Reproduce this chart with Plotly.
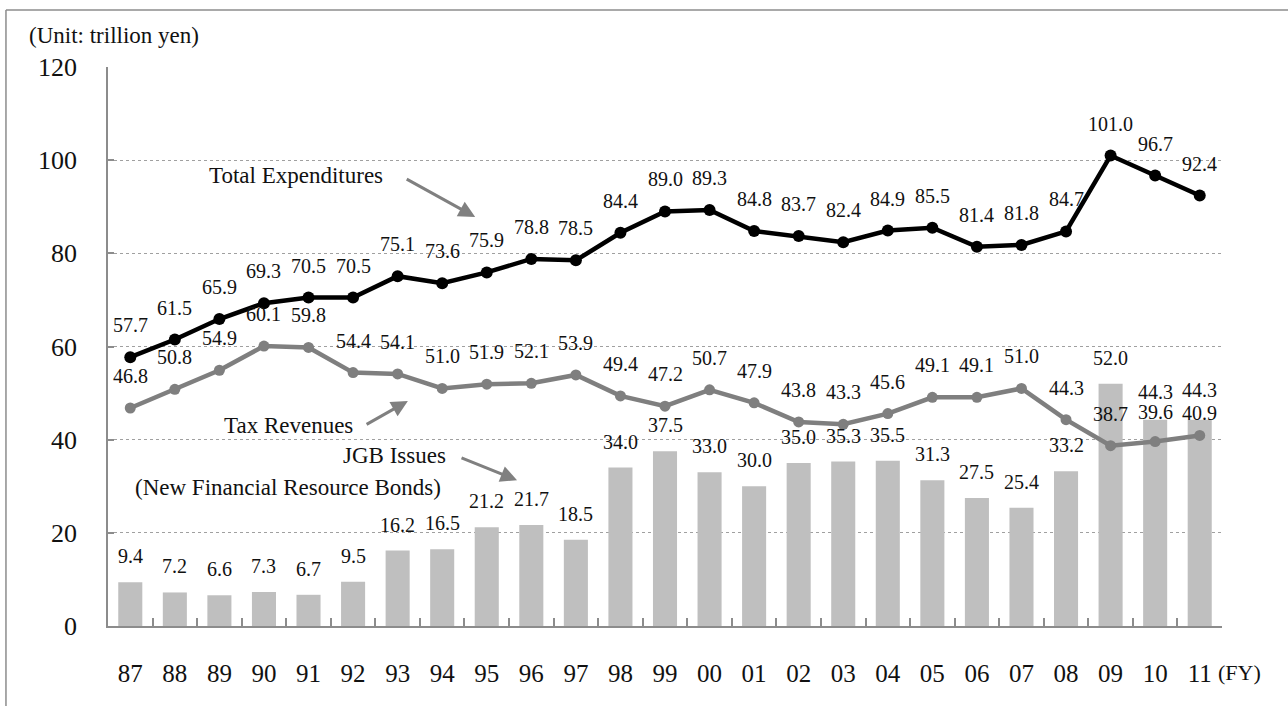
import plotly.graph_objects as go

years = ["87", "88", "89", "90", "91", "92", "93", "94", "95", "96", "97", "98", "99",
         "00", "01", "02", "03", "04", "05", "06", "07", "08", "09", "10", "11"]
total_exp = [57.7, 61.5, 65.9, 69.3, 70.5, 70.5, 75.1, 73.6, 75.9, 78.8, 78.5, 84.4, 89.0,
             89.3, 84.8, 83.7, 82.4, 84.9, 85.5, 81.4, 81.8, 84.7, 101.0, 96.7, 92.4]
tax_rev = [46.8, 50.8, 54.9, 60.1, 59.8, 54.4, 54.1, 51.0, 51.9, 52.1, 53.9, 49.4, 47.2,
           50.7, 47.9, 43.8, 43.3, 45.6, 49.1, 49.1, 51.0, 44.3, 38.7, 39.6, 40.9]
jgb = [9.4, 7.2, 6.6, 7.3, 6.7, 9.5, 16.2, 16.5, 21.2, 21.7, 18.5, 34.0, 37.5,
       33.0, 30.0, 35.0, 35.3, 35.5, 31.3, 27.5, 25.4, 33.2, 52.0, 44.3, 44.3]
y_ticks = [0, 20, 40, 60, 80, 100, 120]

FONT = "Liberation Serif, Times New Roman, serif"
BAR_C = "#BFBFBF"
TAX_C = "#7F7F7F"
ARROW_C = "#808080"
AXIS_C = "#8C8C8C"
TXT_C = "#111111"

fig = go.Figure()
fig.add_trace(go.Bar(x=years, y=jgb, marker=dict(color=BAR_C, line=dict(width=0)),
                     width=0.54, name="JGB Issues", hoverinfo="x+y"))
fig.add_trace(go.Scatter(x=years, y=tax_rev, mode="lines+markers", name="Tax Revenues",
                         line=dict(color=TAX_C, width=4.5),
                         marker=dict(color=TAX_C, size=11)))
fig.add_trace(go.Scatter(x=years, y=total_exp, mode="lines+markers", name="Total Expenditures",
                         line=dict(color="black", width=4.5),
                         marker=dict(color="black", size=12)))

ann = []
lab_font = dict(family=FONT, size=20, color=TXT_C)
n = len(years)
bar_shift = [26] * n
bar_shift[n - 2] = 28
bar_shift[n - 1] = 30
tax_shift = [32] * n
tax_shift[n - 2] = 30
tax_shift[n - 1] = 22
for i, v in enumerate(jgb):
    ann.append(dict(x=i, y=v, xref="x", yref="y", text=f"{v:.1f}", showarrow=False,
                    yshift=bar_shift[i], yanchor="middle", font=lab_font))
for i, v in enumerate(tax_rev):
    ann.append(dict(x=i, y=v, xref="x", yref="y", text=f"{v:.1f}", showarrow=False,
                    yshift=tax_shift[i], yanchor="middle", font=lab_font))
for i, v in enumerate(total_exp):
    ann.append(dict(x=i, y=v, xref="x", yref="y", text=f"{v:.1f}", showarrow=False,
                    yshift=32, yanchor="middle", font=lab_font))

txt_font = dict(family=FONT, size=23, color=TXT_C)
# series name labels
ann += [
    dict(x=3.72, y=96.8, xref="x", yref="y", text="Total Expenditures", showarrow=False, font=txt_font),
    dict(x=3.56, y=43.1, xref="x", yref="y", text="Tax Revenues", showarrow=False, font=txt_font),
    dict(x=5.92, y=36.7, xref="x", yref="y", text="JGB Issues", showarrow=False, font=txt_font),
    dict(x=3.54, y=29.8, xref="x", yref="y", text="(New Financial Resource Bonds)", showarrow=False, font=txt_font),
]
# arrows (head at x,y ; tail at ax,ay)
for (tx, ty, hx, hy) in [(6.17, 96.1, 7.74, 87.8), (5.27, 43.1, 6.23, 48.3), (7.40, 36.2, 8.68, 31.3)]:
    ann.append(dict(x=hx, y=hy, ax=tx, ay=ty, xref="x", yref="y", axref="x", ayref="y",
                    text="", showarrow=True, arrowhead=2, arrowsize=1.1, arrowwidth=3,
                    arrowcolor=ARROW_C, standoff=0, startstandoff=0))
ann.append(dict(x=-0.0727, y=1.057, xref="paper", yref="paper", text="(Unit: trillion yen)",
                showarrow=False, xanchor="left", yanchor="middle", font=dict(family=FONT, size=23, color=TXT_C)))
ann.append(dict(x=1.016, y=-0.083, xref="paper", yref="paper", text="(FY)", showarrow=False,
                xanchor="center", yanchor="middle", font=dict(family=FONT, size=22, color=TXT_C)))

# outer frame: top and left edges only (others fall outside the page)
frame = dict(color="#8C8C8C", width=1.5)
shapes = [
    dict(type="line", xref="paper", yref="paper", x0=-0.0916, y0=1.102, x1=1.2, y1=1.102, line=frame),
    dict(type="line", xref="paper", yref="paper", x0=-0.0916, y0=1.102, x1=-0.0916, y1=-0.3, line=frame),
]

fig.update_layout(
    width=1288, height=706, autosize=False,
    margin=dict(l=108, r=66, t=67, b=80, pad=0),
    paper_bgcolor="white", plot_bgcolor="white",
    showlegend=False, annotations=ann, shapes=shapes,
    font=dict(family=FONT, color=TXT_C),
    xaxis=dict(type="category", range=[-0.5, 24.5], showline=True, linecolor=AXIS_C, linewidth=1.5,
               ticks="inside", tickson="boundaries", ticklen=8, tickcolor=AXIS_C, tickwidth=1.5,
               showgrid=False, tickfont=dict(family=FONT, size=25, color=TXT_C),
               ticklabelstandoff=24, fixedrange=True),
    yaxis=dict(range=[0, 120], tickvals=y_ticks, showline=True, linecolor=AXIS_C, linewidth=1.5,
               ticks="inside", ticklen=6, tickcolor=AXIS_C, tickwidth=1.5,
               showgrid=True, gridcolor="#A0A0A0", gridwidth=1, griddash="dot",
               zeroline=False, tickfont=dict(family=FONT, size=26, color=TXT_C),
               ticklabelstandoff=24, fixedrange=True),
)

fig.write_html("out.html", config={"displayModeBar": False})
